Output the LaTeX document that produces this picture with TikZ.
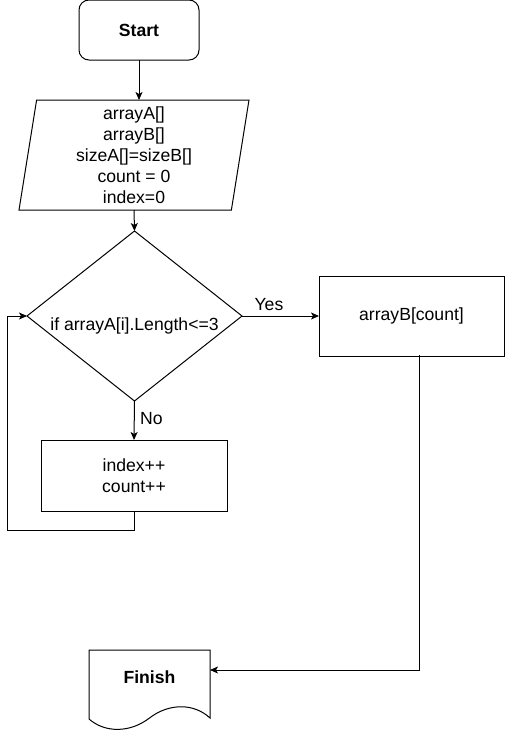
\documentclass[tikz,border=0pt]{standalone}
\usepackage{fontspec}
\setmainfont{Liberation Sans}
\usetikzlibrary{positioning,shapes.geometric}
\usetikzlibrary{arrows.meta}

\tikzset{
	box/.style={draw, line width=1pt, outer sep=0pt, align=center, inner sep=0pt},
	flow/.style={line width=1pt, -{Stealth[length=8pt, width=7pt, inset=2pt]}}
}

\begin{document}
\begin{tikzpicture}[x=1pt, y=-1pt, font=\fontsize{17.6}{21}\selectfont]
		\useasboundingbox (0,0) rectangle (505,731);
		
		\node[box, rounded corners=10pt, minimum width=120, minimum height=60] (start) at (139,30) {\textbf{Start}};
		
		\node[box, trapezium, trapezium left angle=79.7, trapezium right angle=100.3, trapezium stretches body, minimum width=230, minimum height=110] (in) at (134,155) {arrayA[]\\arrayB[]\\sizeA[]=sizeB[]\\count = 0\\index=0};
		
		\node[box, diamond, aspect=1.265, minimum width=215, minimum height=170, text height=29pt, text depth=0pt] (dec) at (134.5,316) {if arrayA[i].Length<=3};
		
		\node[box, minimum width=185, minimum height=80] (out) at (411.5,316) {arrayB[count]};
		\node[box, minimum width=186, minimum height=71] (inc) at (134,475.5) {index++\\count++};
		
		% finish (document shape)
		\draw[line width=1pt] (89,719) -- (89,650) -- (210,650) -- (210,718) .. controls (194,703) and (169,703) .. (149.5,718) .. controls (130,733) and (105,733) .. (89,719);
		\node (fin) at (149.5,677) {\textbf{Finish}};
		\coordinate (finE) at (210,670);
		\coordinate (loopL) at (7,530);
		\coordinate (outS) at (419,355);
		
		\draw[flow] (start.south) -- (start.south |- in.north);
		\draw[flow] (in.south) -- (dec.north);
		\draw[flow] (dec.east) -- (out.west) node[pos=.35, above=1pt] {Yes};
		\draw[flow] (dec.south) -- (inc.north) node[pos=.45, right=2pt] {No};
		\draw[flow] (inc.south) |- (loopL) |- (dec.west);
		\draw[flow] (outS) |- (finE);
	\end{tikzpicture}
\end{document}
